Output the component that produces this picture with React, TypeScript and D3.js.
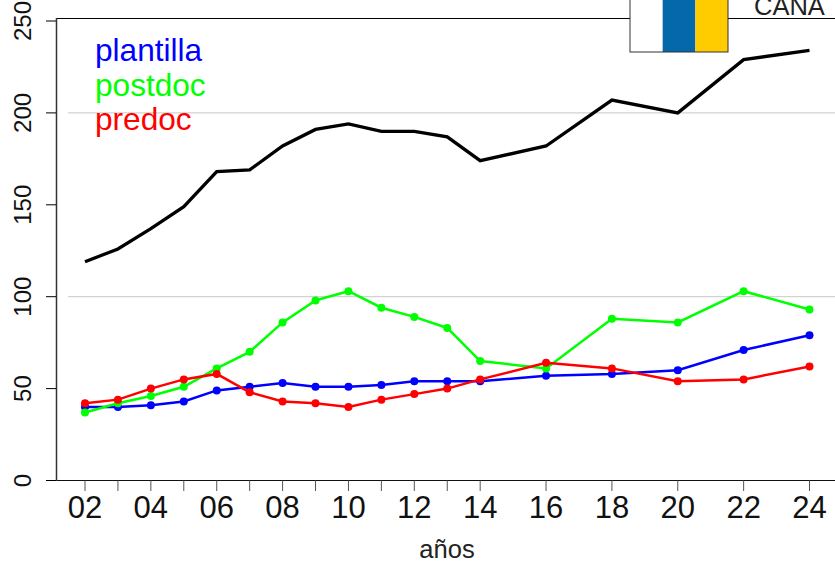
import React from "react";
import * as d3 from "d3";

const years = [2,3,4,5,6,7,8,9,10,11,12,13,14,16,18,20,22,24];
const xLabels = [2,4,6,8,10,12,14,16,18,20,22,24];
const yTicks = [0,50,100,150,200,250];
const gridValues = [100,200];
const total = [119,126,137,149,168,169,182,191,194,190,190,187,174,182,207,200,229,234];
const plantilla = [40,40,41,43,49,51,53,51,51,52,54,54,54,57,58,60,71,79];
const postdoc = [37,42,46,51,61,70,86,98,103,94,89,83,65,61,88,86,103,93];
const predoc = [42,44,50,55,58,48,43,42,40,44,47,50,55,64,61,54,55,62];
const seriesNames = ["plantilla","postdoc","predoc"];
const seriesColors = ["#0000ff","#00ff00","#ff0000"];
const seriesValues = [plantilla,postdoc,predoc];
const flagColors = ["#ffffff","#0468ab","#ffcc00"];
const font = "'Liberation Sans', Arial, sans-serif";

export default function App() {
  const x = d3.scaleLinear().domain([2,24]).range([85,809.5]);
  const y = d3.scaleLinear().domain([0,250]).range([480.5,21]);
  const line = d3.line<number>().x((_,i)=>x(years[i])).y(d=>y(d));
  const flagX = d3.scaleBand<number>().domain([0,1,2]).range([630,728]);
  return (
    <svg width={835} height={564} style={{position:"absolute",left:0,top:0,background:"#fff"}} fontFamily={font}>
      {gridValues.map(v=>(
        <line key={v} x1={68} x2={835} y1={y(v)} y2={y(v)} stroke="#c8c8c8" strokeWidth={1}/>
      ))}
      <line x1={56.5} x2={835} y1={18.5} y2={18.5} stroke="#000" strokeWidth={1}/>
      <line x1={46} x2={835} y1={480.5} y2={480.5} stroke="#111" strokeWidth={1.2}/>
      <line x1={56.5} x2={56.5} y1={18} y2={481} stroke="#333" strokeWidth={1.5}/>
      {yTicks.map(v=>(
        <g key={v}>
          <line x1={46} x2={56} y1={y(v)} y2={y(v)} stroke="#000" strokeWidth={1}/>
          <text transform={`translate(31,${y(v)}) rotate(-90)`} textAnchor="middle" fontSize={24} fill="#111">{v}</text>
        </g>
      ))}
      {years.map(v=>(
        <line key={v} x1={x(v)} x2={x(v)} y1={480.5} y2={491} stroke="#555" strokeWidth={1}/>
      ))}
      {xLabels.map(v=>(
        <text key={v} x={x(v)} y={518} textAnchor="middle" fontSize={31} fill="#111">{String(v).padStart(2,"0")}</text>
      ))}
      <text x={447} y={558} textAnchor="middle" fontSize={25.5} fill="#222">años</text>
      <path d={line(total)!} fill="none" stroke="#000" strokeWidth={3.3}/>
      {seriesValues.map((vals,k)=>(
        <g key={seriesNames[k]}>
          <path d={line(vals)!} fill="none" stroke={seriesColors[k]} strokeWidth={2.5}/>
          {vals.map((v,i)=>(
            <circle key={i} cx={x(years[i])} cy={y(v)} r={4} fill={seriesColors[k]}/>
          ))}
        </g>
      ))}
      {seriesNames.map((n,k)=>(
        <text key={n} x={95} y={61+k*34.5} fontSize={31.6} fill={seriesColors[k]}>{n}</text>
      ))}
      <rect x={630} y={0} width={98} height={70} fill="#fff"/>
      {flagColors.map((c,i)=>(
        <rect key={i} x={flagX(i)} y={-2} width={flagX.bandwidth()} height={54} fill={c}/>
      ))}
      <rect x={630} y={-2} width={98} height={54} fill="none" stroke="#333" strokeWidth={1}/>
      <rect x={740} y={0} width={95} height={18} fill="#fff"/>
      <text x={754} y={15} fontSize={25.5} fill="#222">CANA</text>
    </svg>
  );
}
